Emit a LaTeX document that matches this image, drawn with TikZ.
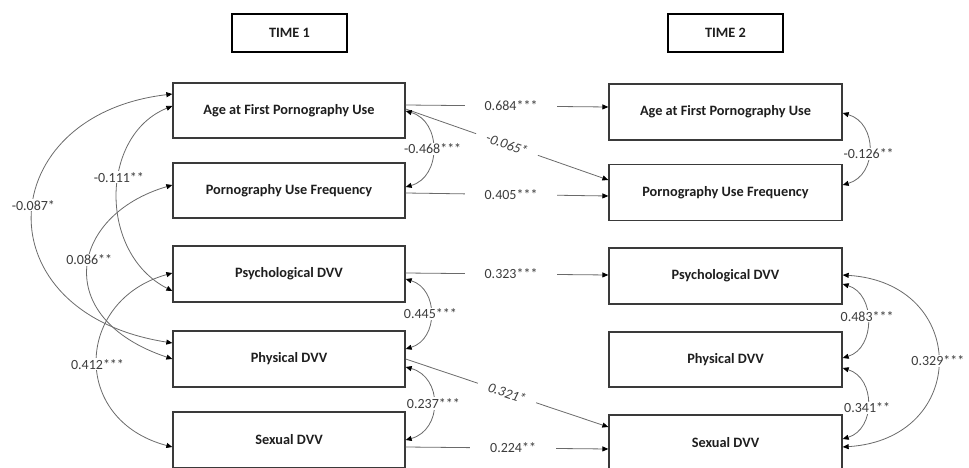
\documentclass[tikz,border=0pt]{standalone}
\usepackage{fontspec}
\setmainfont{Carlito}
\usetikzlibrary{arrows.meta}
\definecolor{linegray}{HTML}{6A6A6A}
\definecolor{boxgray}{HTML}{3A3A3A}
\definecolor{txt}{HTML}{1E1E1E}
\definecolor{coefc}{HTML}{3C3C3C}
\begin{document}
\begin{tikzpicture}[x=1pt,y=-1pt,
  box/.style={draw=boxgray, line width=1.3pt, minimum width=232pt, minimum height=56pt, inner sep=0pt,
    font=\fontsize{14.3}{17}\selectfont\bfseries, text=txt},
  timebox/.style={draw=black, line width=2.4pt, minimum width=115pt, minimum height=38pt, inner sep=0pt,
    font=\fontsize{14.3}{17}\selectfont\bfseries, text=txt},
  >={Triangle[length=6pt,width=5pt,color=black]},
  conn/.style={draw=linegray, line width=0.8pt},
  coef/.style={fill=white, text=coefc, font=\fontsize{14}{16}\selectfont, inner sep=1pt},
  hcoef/.style={coef, inner xsep=20pt},
  scoef/.style={coef, sloped, inner xsep=11pt, inner ysep=0.5pt, font=\fontsize{14}{16}\selectfont\itshape}
]
\useasboundingbox (0,0) rectangle (969,468);
% headers
\node[timebox] (t1) at (289.5,33) {TIME 1};
\node[timebox] (t2) at (725.5,33) {TIME 2};
% time 1 boxes
\node[box, minimum height=55pt] (ageA) at (289,110.5) {Age at First Pornography Use};
\node[box, minimum height=55pt] (pufA) at (289,190.5) {Pornography Use Frequency};
\node[box] (psyA) at (289,274) {Psychological DVV};
\node[box] (phyA) at (289,359) {Physical DVV};
\node[box] (sexA) at (289,440) {Sexual DVV};
% time 2 boxes
\node[box, minimum width=233pt] (ageB) at (725.5,112) {Age at First Pornography Use};
\node[box, minimum width=233pt] (pufB) at (725.5,192.5) {Pornography Use Frequency};
\node[box, minimum width=233pt] (psyB) at (725.5,276) {Psychological DVV};
\node[box, minimum width=233pt, minimum height=55pt] (phyB) at (725.5,359.5) {Physical DVV};
\node[box, minimum width=233pt] (sexB) at (725.5,443) {Sexual DVV};
% cross-lagged paths
\draw[conn,->] ([yshift=5.5pt]ageA.east) -- node[hcoef,pos=0.52] (l1) {0.684***} ([yshift=5pt]ageB.west);
\draw[conn,->] ([yshift=1.5pt]ageA.east) -- node[scoef,pos=0.5] (l2) {-0.065*} ([yshift=12.5pt]pufB.west);
\draw[conn,->] ([yshift=-2.5pt]pufA.east) -- node[hcoef,pos=0.52] (l3) {0.405***} ([yshift=-3.5pt]pufB.west);
\draw[conn,->] ([yshift=1pt]psyA.east) -- node[hcoef,pos=0.52] (l4) {0.323***} ([yshift=1pt]psyB.west);
\draw[conn,->] ([yshift=0pt]phyA.east) -- node[scoef,pos=0.5] (l5) {0.321*} ([yshift=16pt]sexB.west);
\draw[conn,->] ([yshift=-7pt]sexA.east) -- node[hcoef,pos=0.53] (l6) {0.224**} ([yshift=-6pt]sexB.west);
% time 1 right correlations
\draw[conn,<->] ([yshift=-0.5pt]ageA.east) .. controls +(36,10) and +(36,-10) .. node[coef,pos=0.5] (l7) {-0.468***} ([yshift=3.5pt]pufA.east);
\draw[conn,<->] ([yshift=-5pt]psyA.east) .. controls +(33,10) and +(33,-10) .. node[coef,pos=0.5] (l8) {0.445***} ([yshift=10pt]phyA.east);
\draw[conn,<->] ([yshift=-8pt]phyA.east) .. controls +(37,10) and +(37,-10) .. node[coef,pos=0.5] (l9) {0.237***} ([yshift=0pt]sexA.east);
% time 2 right correlations
\draw[conn,<->] ([yshift=-1pt]ageB.east) .. controls +(35,10) and +(35,-10) .. node[coef,pos=0.55] (l10) {-0.126**} ([yshift=7.5pt]pufB.east);
\draw[conn,<->] ([yshift=-8pt]psyB.east) .. controls +(33,10) and +(33,-10) .. node[coef,pos=0.45] (l11) {0.483***} ([yshift=1.5pt]phyB.east);
\draw[conn,<->] ([yshift=-8.5pt]phyB.east) .. controls +(33,10) and +(33,-10) .. node[coef,pos=0.55] (l12) {0.341**} ([yshift=4pt]sexB.east);
\draw[conn,<->] ([yshift=1pt]psyB.east) .. controls +(127,8) and +(127,-8) .. node[coef,pos=0.5] (l13) {0.329***} ([yshift=-4pt]sexB.east);
% time 1 left correlations
\draw[conn,<->] ([yshift=16.5pt]ageA.west) .. controls (-8,115) and (-20,313) .. node[coef,pos=0.47] (l14) {-0.087*} ([yshift=16pt]phyA.west);
\draw[conn,<->] ([yshift=4.5pt]ageA.west) .. controls (100,135) and (98,253) .. node[coef,pos=0.42] (l15) {-0.111**} ([yshift=-17pt]psyA.west);
\draw[conn,<->] ([yshift=5.5pt]pufA.west) .. controls (70,215) and (50,318) .. node[coef,pos=0.46] (l16) {0.086**} ([yshift=0pt]phyA.west);
\draw[conn,<->] ([yshift=1pt]psyA.west) .. controls (75,300) and (70,420) .. node[coef,pos=0.52] (l17) {0.412***} ([yshift=-7pt]sexA.west);
\end{tikzpicture}
\end{document}
